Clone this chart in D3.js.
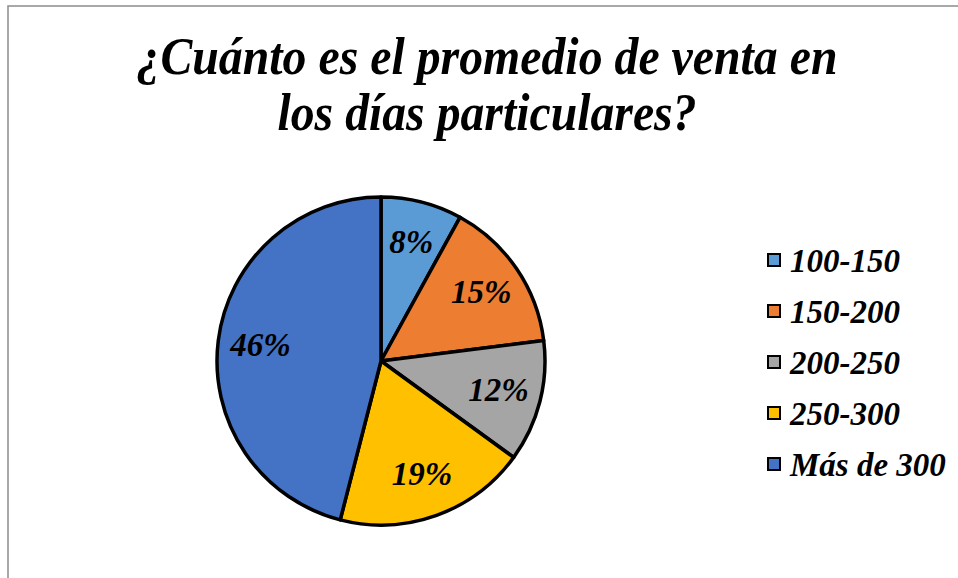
<!DOCTYPE html>
<html>
<head>
<meta charset="utf-8">
<script src="https://cdn.jsdelivr.net/npm/d3@7.9.0/dist/d3.min.js"></script>
<style>
  html, body { margin: 0; padding: 0; background: #fff; }
  svg { display: block; }
  svg text { font-family: 'Liberation Serif', 'Times New Roman', serif; font-weight: bold; font-style: italic; }
</style>
</head>
<body>
<svg id="chart" width="958" height="578"></svg>
<script>
// data
const categories = ['100-150', '150-200', '200-250', '250-300', 'Más de 300'];
const values = [8, 15, 12, 19, 46];
const colors = ['#5B9BD5', '#ED7D31', '#A5A5A5', '#FFC000', '#4472C4'];
const titleLines = ['¿Cuánto es el promedio de venta en', 'los días particulares?'];

const svg = d3.select('#chart');

// frame
svg.append('rect')
  .attr('x', 8).attr('y', 6)
  .attr('width', 960).attr('height', 580)
  .attr('fill', 'none')
  .attr('stroke', '#8c8c8c')
  .attr('stroke-width', 1.5);

// title
const titleWidths = [701, 419];
svg.selectAll('text.title')
  .data(titleLines)
  .join('text')
  .attr('class', 'title')
  .attr('x', 487)
  .attr('y', (d, i) => 74 + i * 56)
  .attr('text-anchor', 'middle')
  .attr('font-size', 52)
  .attr('textLength', (d, i) => titleWidths[i])
  .attr('lengthAdjust', 'spacingAndGlyphs')
  .text(d => d);

// pie
const cx = 381, cy = 361, radius = 164;
const pie = d3.pie().sort(null).value(d => d);
const arc = d3.arc().innerRadius(0).outerRadius(radius);
const labelArc = d3.arc().innerRadius(radius * 0.74).outerRadius(radius * 0.74);
const arcs = pie(values);

const g = svg.append('g').attr('transform', `translate(${cx},${cy})`);

g.selectAll('path')
  .data(arcs)
  .join('path')
  .attr('d', arc)
  .attr('fill', (d, i) => colors[i])
  .attr('stroke', '#000')
  .attr('stroke-width', 3.5)
  .attr('stroke-linejoin', 'round');

g.selectAll('text')
  .data(arcs)
  .join('text')
  .attr('transform', d => `translate(${labelArc.centroid(d)})`)
  .attr('text-anchor', 'middle')
  .attr('dy', '0.3em')
  .attr('font-size', 33)
  .text(d => d.data + '%');

// legend
const legend = svg.append('g').attr('transform', 'translate(768,260)');
const row = legend.selectAll('g')
  .data(categories)
  .join('g')
  .attr('transform', (d, i) => `translate(0,${i * 51})`);

row.append('rect')
  .attr('x', 0).attr('y', -6)
  .attr('width', 12).attr('height', 12)
  .attr('fill', (d, i) => colors[i])
  .attr('stroke', '#000')
  .attr('stroke-width', 2);

row.append('text')
  .attr('x', 22)
  .attr('dy', '0.35em')
  .attr('font-size', 33)
  .text(d => d);
</script>
</body>
</html>
